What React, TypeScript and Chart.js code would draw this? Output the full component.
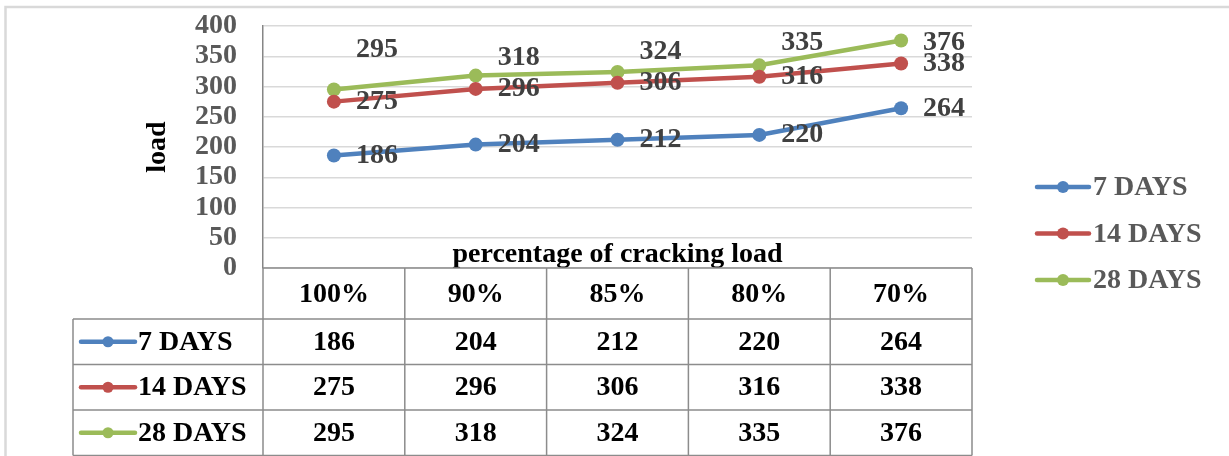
import React, { useEffect, useRef } from 'react';
import { Chart, registerables } from 'chart.js';

Chart.register(...registerables);

// ---------- data ----------
const categories = ['100%', '90%', '85%', '80%', '70%'];
const seriesNames = ['7 DAYS', '14 DAYS', '28 DAYS'];
const days7 = [186, 204, 212, 220, 264];
const days14 = [275, 296, 306, 316, 338];
const days28 = [295, 318, 324, 335, 376];
const yAxisTitle = 'load';
const xAxisTitle = 'percentage of cracking load';
const yMin = 0;
const yMax = 400;
const yStep = 50;

// ---------- styles ----------
const seriesColors = ['#4f81bd', '#c0504d', '#9bbb59'];
// vertical nudges (px) applied to data labels of each series
const labelNudge = [
  [0, 0, 0, 0, 0],
  [0, 0, 0, 0, 0],
  [-40, -18, -20, -23, 2],
];
const FONT = "'Liberation Serif', 'Times New Roman', serif";
const W = 1229;
const H = 456;

const overlayPlugin = {
  id: 'overlay',
  beforeDraw(chart: any) {
    const { ctx } = chart;
    ctx.save();
    ctx.fillStyle = '#ffffff';
    ctx.fillRect(0, 0, chart.width, chart.height);
    // outer frame
    ctx.strokeStyle = '#d9d9d9';
    ctx.lineWidth = 2.5;
    ctx.beginPath();
    ctx.moveTo(5.5, H + 5);
    ctx.lineTo(5.5, 7);
    ctx.lineTo(W + 5, 7);
    ctx.stroke();
    ctx.restore();
  },
  afterDatasetsDraw(chart: any) {
    const { ctx } = chart;
    ctx.save();
    ctx.font = `bold 28px ${FONT}`;
    ctx.fillStyle = '#404040';
    ctx.textAlign = 'left';
    ctx.textBaseline = 'middle';
    chart.data.datasets.forEach((ds: any, di: number) => {
      const meta = chart.getDatasetMeta(di);
      meta.data.forEach((pt: any, i: number) => {
        ctx.fillText(String(ds.data[i]), pt.x + 22, pt.y + labelNudge[di][i]);
      });
    });
    ctx.restore();
  },
  afterDraw(chart: any) {
    const { ctx, chartArea } = chart;
    const xs = chart.scales.x;
    const n = categories.length;
    const left = chartArea.left;
    const right = chartArea.right;
    const colW = (right - left) / n;
    const top = chartArea.bottom;
    const headerH = 51;
    const rowH = 45.5;
    const keyLeft = 73;

    ctx.save();
    // x axis title inside the plot
    ctx.font = `bold 28px ${FONT}`;
    ctx.fillStyle = '#000000';
    ctx.textAlign = 'center';
    ctx.textBaseline = 'alphabetic';
    ctx.fillText(xAxisTitle, (left + right) / 2, top - 6);

    // table grid
    ctx.strokeStyle = '#8c8c8c';
    ctx.lineWidth = 1.5;
    ctx.beginPath();
    ctx.moveTo(left, top);
    ctx.lineTo(right, top);
    for (let r = 0; r <= seriesNames.length; r++) {
      const y = top + headerH + r * rowH;
      ctx.moveTo(keyLeft, y);
      ctx.lineTo(right, y);
    }
    for (let c = 0; c <= n; c++) {
      const x = left + c * colW;
      ctx.moveTo(x, top);
      ctx.lineTo(x, top + headerH + seriesNames.length * rowH);
    }
    ctx.moveTo(keyLeft, top + headerH);
    ctx.lineTo(keyLeft, top + headerH + seriesNames.length * rowH);
    ctx.stroke();

    // header labels
    ctx.fillStyle = '#000000';
    ctx.textBaseline = 'middle';
    ctx.textAlign = 'center';
    categories.forEach((c, i) => {
      ctx.fillText(c, xs.getPixelForValue(i), top + headerH / 2 + 1);
    });

    // rows
    chart.data.datasets.forEach((ds: any, di: number) => {
      const cy = top + headerH + di * rowH + rowH / 2;
      ds.data.forEach((v: number, i: number) => {
        ctx.textAlign = 'center';
        ctx.fillStyle = '#000000';
        ctx.fillText(String(v), xs.getPixelForValue(i), cy + 1);
      });
      // key
      ctx.strokeStyle = seriesColors[di];
      ctx.lineWidth = 4.5;
      ctx.lineCap = 'round';
      ctx.beginPath();
      ctx.moveTo(81, cy);
      ctx.lineTo(135, cy);
      ctx.stroke();
      ctx.fillStyle = seriesColors[di];
      ctx.beginPath();
      ctx.arc(108, cy, 5.5, 0, Math.PI * 2);
      ctx.fill();
      ctx.fillStyle = '#000000';
      ctx.textAlign = 'left';
      ctx.fillText(ds.label, 138, cy + 1);
    });

    // right-side legend
    const legendYs = [187, 233.5, 280];
    chart.data.datasets.forEach((ds: any, di: number) => {
      const cy = legendYs[di];
      ctx.strokeStyle = seriesColors[di];
      ctx.lineWidth = 4.5;
      ctx.lineCap = 'round';
      ctx.beginPath();
      ctx.moveTo(1037, cy);
      ctx.lineTo(1089, cy);
      ctx.stroke();
      ctx.fillStyle = seriesColors[di];
      ctx.beginPath();
      ctx.arc(1063, cy, 6, 0, Math.PI * 2);
      ctx.fill();
      ctx.fillStyle = '#595959';
      ctx.textAlign = 'left';
      ctx.textBaseline = 'middle';
      ctx.fillText(ds.label, 1093, cy + 1);
    });
    ctx.restore();
  },
};

export default function App() {
  const ref = useRef<HTMLCanvasElement | null>(null);

  useEffect(() => {
    document.body.style.margin = '0';
    const canvas = ref.current;
    if (!canvas) return;
    const seriesValues = [days7, days14, days28];
    const chart = new Chart(canvas, {
      type: 'line',
      data: {
        labels: categories,
        datasets: seriesNames.map((name, i) => ({
          label: name,
          data: seriesValues[i],
          borderColor: seriesColors[i],
          backgroundColor: seriesColors[i],
          pointBackgroundColor: seriesColors[i],
          pointBorderColor: seriesColors[i],
          borderWidth: 4.5,
          pointRadius: 7,
          pointBorderWidth: 0,
          tension: 0,
          fill: false,
        })),
      },
      options: {
        responsive: false,
        animation: false,
        devicePixelRatio: 1,
        layout: { padding: { left: 0, top: 26, right: W - 972, bottom: H - 268 } },
        plugins: {
          legend: { display: false },
          tooltip: { enabled: false },
        },
        scales: {
          x: {
            type: 'category',
            display: false,
            offset: true,
          },
          y: {
            min: yMin,
            max: yMax,
            afterFit: (scale: any) => {
              scale.width = 263;
            },
            ticks: {
              stepSize: yStep,
              autoSkip: false,
              padding: 0,
              color: '#595959',
              font: { family: FONT, size: 28, weight: 'bold' },
            },
            grid: {
              color: '#d9d9d9',
              lineWidth: 1.5,
              drawTicks: true,
              tickLength: 26,
              tickColor: 'rgba(0,0,0,0)',
            },
            border: { display: true, color: '#868686', width: 1.5 },
            title: {
              display: true,
              text: yAxisTitle,
              color: '#000000',
              font: { family: FONT, size: 28, weight: 'bold' },
              padding: { top: 141, bottom: 0 },
            },
          },
        },
      },
      plugins: [overlayPlugin],
    });
    return () => chart.destroy();
  }, []);

  return (
    <div style={{ width: W, height: H, position: 'relative' }}>
      <canvas ref={ref} width={W} height={H} style={{ display: 'block' }} />
    </div>
  );
}
